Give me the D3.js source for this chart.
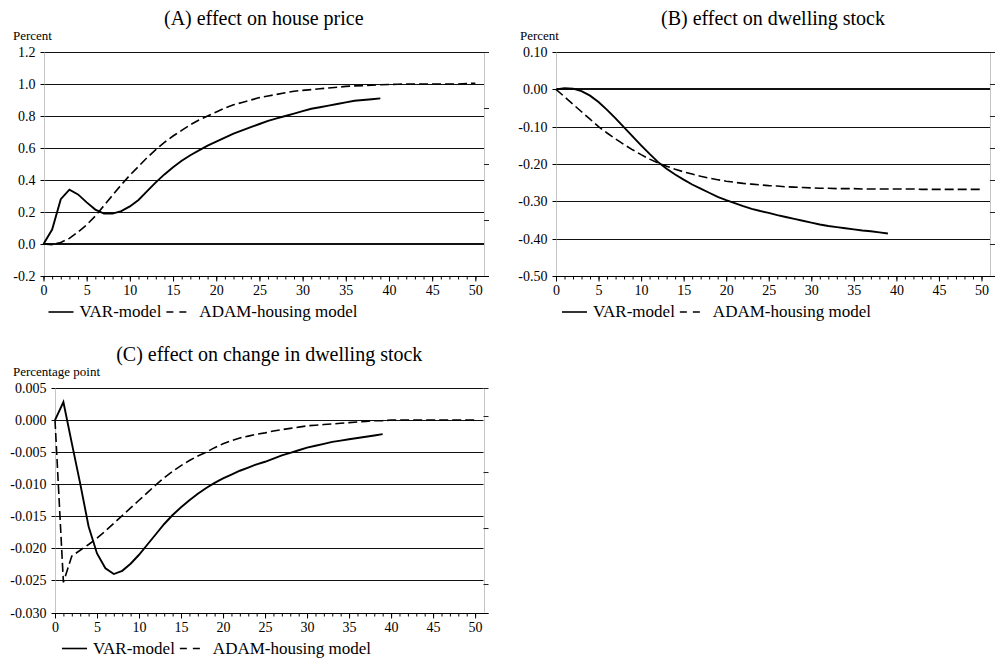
<!DOCTYPE html>
<html>
<head>
<meta charset="utf-8">
<script src="https://cdn.jsdelivr.net/npm/d3@7"></script>
<style>
  body { margin: 0; background: #fff; }
  svg text { font-family: "Liberation Serif", "Times New Roman", Times, "DejaVu Serif", serif; fill: #000; }
</style>
</head>
<body>
<div id="chart"></div>
<script>
// x is the quarter after the shock (array index)
const xTicks = [0, 5, 10, 15, 20, 25, 30, 35, 40, 45, 50];
const legendLabels = ["VAR-model", "ADAM-housing model"];

// (A) house price, percent
const priceTitle = "(A) effect on house price";
const priceUnit = "Percent";
const priceYTicks = [-0.2, 0.0, 0.2, 0.4, 0.6, 0.8, 1.0, 1.2];
const priceRightTicks = [0, 1, 2, 3, 4];
const priceVar = [
  0.00, 0.09, 0.28, 0.34, 0.31, 0.26, 0.215, 0.19, 0.19, 0.205,
  0.235, 0.275, 0.33, 0.385, 0.435, 0.48, 0.52, 0.555, 0.585, 0.615,
  0.64, 0.665, 0.69, 0.71, 0.73, 0.75, 0.77, 0.785, 0.80, 0.815,
  0.83, 0.845, 0.855, 0.865, 0.875, 0.885, 0.895, 0.90, 0.905, 0.91
];
const priceAdam = [
  0.00, -0.005, 0.01, 0.035, 0.075, 0.12, 0.175, 0.24, 0.305, 0.37,
  0.43, 0.485, 0.54, 0.59, 0.635, 0.675, 0.71, 0.745, 0.775, 0.80,
  0.825, 0.85, 0.87, 0.885, 0.90, 0.915, 0.925, 0.935, 0.945, 0.955,
  0.96, 0.965, 0.97, 0.975, 0.98, 0.985, 0.988, 0.99, 0.993, 0.995,
  0.997, 0.998, 1.0, 1.0, 1.0, 1.0, 1.0, 1.0, 1.0, 1.003, 1.005
];

// (B) dwelling stock, percent
const stockTitle = "(B) effect on dwelling stock";
const stockUnit = "Percent";
const stockYTicks = [-0.5, -0.4, -0.3, -0.2, -0.1, 0.0, 0.1];
const stockRightTicks = [0, 1, 2, 3, 4, 5, 6, 7];
const stockVar = [
  0.00, 0.003, 0.002, -0.005, -0.017, -0.034, -0.055, -0.078, -0.102, -0.126,
  -0.15, -0.173, -0.195, -0.213, -0.228, -0.242, -0.255, -0.266, -0.277, -0.288,
  -0.297, -0.305, -0.313, -0.32, -0.326, -0.331, -0.337, -0.342, -0.347, -0.352,
  -0.357, -0.362, -0.366, -0.369, -0.372, -0.375, -0.378, -0.38, -0.383, -0.386
];
const stockAdam = [
  0.00, -0.02, -0.04, -0.06, -0.08, -0.10, -0.117, -0.133, -0.148, -0.162,
  -0.175, -0.187, -0.197, -0.206, -0.214, -0.221, -0.227, -0.233, -0.238, -0.242,
  -0.246, -0.249, -0.252, -0.254, -0.256, -0.258, -0.259, -0.261, -0.262, -0.263,
  -0.264, -0.265, -0.265, -0.266, -0.266, -0.266, -0.267, -0.267, -0.267, -0.267,
  -0.267, -0.267, -0.267, -0.268, -0.268, -0.268, -0.268, -0.268, -0.268, -0.268, -0.268
];

// (C) change in dwelling stock, percentage point
const changeTitle = "(C) effect on change in dwelling stock";
const changeUnit = "Percentage point";
const changeYTicks = [-0.030, -0.025, -0.020, -0.015, -0.010, -0.005, 0.000, 0.005];
const changeRightTicks = [0, 0.5, 1.5, 2.5, 3.5, 4];
const changeVar = [
  0.0, 0.0028, -0.0036, -0.0099, -0.0166, -0.0208, -0.0231, -0.0240, -0.0235, -0.0224,
  -0.0210, -0.0194, -0.0178, -0.0162, -0.0148, -0.0136, -0.0125, -0.0115, -0.0106, -0.0098,
  -0.0091, -0.0085, -0.0079, -0.0074, -0.0069, -0.0065, -0.0060, -0.0055, -0.0051, -0.0047,
  -0.0043, -0.0040, -0.0037, -0.0034, -0.0032, -0.0030, -0.0028, -0.0026, -0.0024, -0.0022
];
const changeAdam = [
  0.0, -0.0253, -0.0212, -0.0203, -0.0194, -0.0184, -0.0173, -0.0161, -0.0149, -0.0137,
  -0.0125, -0.0113, -0.0101, -0.0090, -0.0080, -0.0071, -0.0063, -0.0056, -0.0050, -0.0043,
  -0.0037, -0.0032, -0.0028, -0.0025, -0.0022, -0.0020, -0.0017, -0.0015, -0.0013, -0.0011,
  -0.0009, -0.0008, -0.0007, -0.0006, -0.0005, -0.0004, -0.0003, -0.0002, -0.0001, -0.0001,
  0.0, 0.0, 0.0, 0.0, 0.0, 0.0, 0.0, 0.0, 0.0, 0.0, 0.0
];

const svg = d3
  .select("#chart")
  .append("svg")
  .attr("width", 995)
  .attr("height", 659);

// snap a coordinate to the pixel grid for crisp 1px lines
const crisp = (v) => Math.round(v) + 0.5;

function drawPanel(p) {
  const xScale = d3.scaleLinear().domain([0, 51]).range([p.left, p.right]);
  const yScale = d3
    .scaleLinear()
    .domain([p.yTicks[0], p.yTicks[p.yTicks.length - 1]])
    .range([p.bottom, p.top]);
  const rightScale = d3
    .scaleLinear()
    .domain([0, p.rightTicks[p.rightTicks.length - 1]])
    .range([p.bottom, p.top]);

  const g = svg.append("g");

  // title and unit
  g.append("text")
    .attr("x", (p.left + p.right) / 2)
    .attr("y", p.top - 27)
    .attr("text-anchor", "middle")
    .style("font-size", "20px")
    .text(p.title);

  g.append("text")
    .attr("x", p.unitX)
    .attr("y", p.top - 12)
    .style("font-size", "13px")
    .text(p.unit);

  // gridlines
  g.append("g")
    .selectAll("line")
    .data(p.yTicks.slice(1))
    .join("line")
    .attr("x1", p.left)
    .attr("x2", p.right)
    .attr("y1", (d) => (d === 0 && p.zeroWidth > 1.5 ? Math.round(yScale(d)) : crisp(yScale(d))))
    .attr("y2", (d) => (d === 0 && p.zeroWidth > 1.5 ? Math.round(yScale(d)) : crisp(yScale(d))))
    .attr("stroke", "#111")
    .attr("stroke-width", (d) => (d === 0 ? p.zeroWidth : 1));

  // left axis and right border in light grey
  g.append("line")
    .attr("x1", crisp(p.left)).attr("x2", crisp(p.left))
    .attr("y1", p.top).attr("y2", p.bottom)
    .attr("stroke", "#c4c4c4");
  g.append("line")
    .attr("x1", crisp(p.right)).attr("x2", crisp(p.right))
    .attr("y1", p.top).attr("y2", p.bottom)
    .attr("stroke", "#c4c4c4");

  // secondary axis tick marks on the right
  g.append("g")
    .selectAll("line")
    .data(p.rightTicks)
    .join("line")
    .attr("x1", p.right)
    .attr("x2", p.right + 5)
    .attr("y1", (d) => crisp(rightScale(d)))
    .attr("y2", (d) => crisp(rightScale(d)))
    .attr("stroke", "#222");

  const yAxis = g
    .append("g")
    .attr("transform", `translate(${crisp(p.left)},0)`)
    .call(
      d3.axisLeft(yScale)
        .tickValues(p.yTicks)
        .tickSize(4)
        .tickPadding(5)
        .tickFormat((d) => d.toFixed(p.digits))
    );
  yAxis.attr("font-family", null);
  yAxis.select(".domain").remove();
  yAxis.selectAll(".tick").attr("transform", (d) => `translate(0,${crisp(yScale(d))})`);
  yAxis.selectAll("text").style("font-size", "14px");

  // x axis: minor ticks every period, labelled ticks every 5
  const xMinor = g
    .append("g")
    .attr("transform", `translate(0,${crisp(p.bottom)})`)
    .call(
      d3.axisBottom(xScale)
        .tickValues(p.adam.map((d, i) => i))
        .tickSize(3)
        .tickFormat("")
    );
  xMinor.select(".domain").remove();

  const xAxis = g
    .append("g")
    .attr("transform", `translate(0,${crisp(p.bottom)})`)
    .call(d3.axisBottom(xScale).tickValues(xTicks).tickSize(5).tickPadding(4));
  xAxis.attr("font-family", null);
  xAxis.select(".domain").remove();
  xAxis.selectAll("text").style("font-size", "14px");

  g.append("line")
    .attr("x1", p.left).attr("x2", p.right + 5)
    .attr("y1", crisp(p.bottom)).attr("y2", crisp(p.bottom))
    .attr("stroke", "#000");

  // series
  const line = d3
    .line()
    .x((d, i) => xScale(i))
    .y((d) => yScale(d));

  g.append("path")
    .datum(p.adam)
    .attr("d", line)
    .attr("fill", "none")
    .attr("stroke", "#000")
    .attr("stroke-width", 1.6)
    .attr("stroke-dasharray", "9,4");

  g.append("path")
    .datum(p.var)
    .attr("d", line)
    .attr("fill", "none")
    .attr("stroke", "#000")
    .attr("stroke-width", 1.9);

  // legend
  const legend = g
    .append("g")
    .attr("transform", `translate(${p.left + p.legendDx},${p.bottom + 36})`);
  legend.append("line")
    .attr("x1", 0).attr("x2", 25)
    .attr("stroke", "#000").attr("stroke-width", 1.6);
  const t1 = legend.append("text")
    .attr("x", 31).attr("dy", "0.32em")
    .style("font-size", "17px")
    .text(legendLabels[0]);
  const end1 = 31 + t1.node().getComputedTextLength();
  legend.append("line")
    .attr("x1", end1 + 5).attr("x2", end1 + 26)
    .attr("stroke", "#000").attr("stroke-width", 1.6)
    .attr("stroke-dasharray", "7,6");
  legend.append("text")
    .attr("x", end1 + 38).attr("dy", "0.32em")
    .style("font-size", "17px")
    .text(legendLabels[1]);
}

drawPanel({
  title: priceTitle, unit: priceUnit, unitX: 13,
  left: 43.5, right: 484, top: 52, bottom: 276,
  yTicks: priceYTicks, rightTicks: priceRightTicks, digits: 1, zeroWidth: 2,
  var: priceVar, adam: priceAdam, legendDx: 5
});

drawPanel({
  title: stockTitle, unit: stockUnit, unitX: 520,
  left: 556, right: 990, top: 52, bottom: 276,
  yTicks: stockYTicks, rightTicks: stockRightTicks, digits: 2, zeroWidth: 2,
  var: stockVar, adam: stockAdam, legendDx: 6
});

drawPanel({
  title: changeTitle, unit: changeUnit, unitX: 13,
  left: 55, right: 483.5, top: 388, bottom: 612.5,
  yTicks: changeYTicks, rightTicks: changeRightTicks, digits: 3, zeroWidth: 1,
  var: changeVar, adam: changeAdam, legendDx: 7
});
</script>
</body>
</html>
